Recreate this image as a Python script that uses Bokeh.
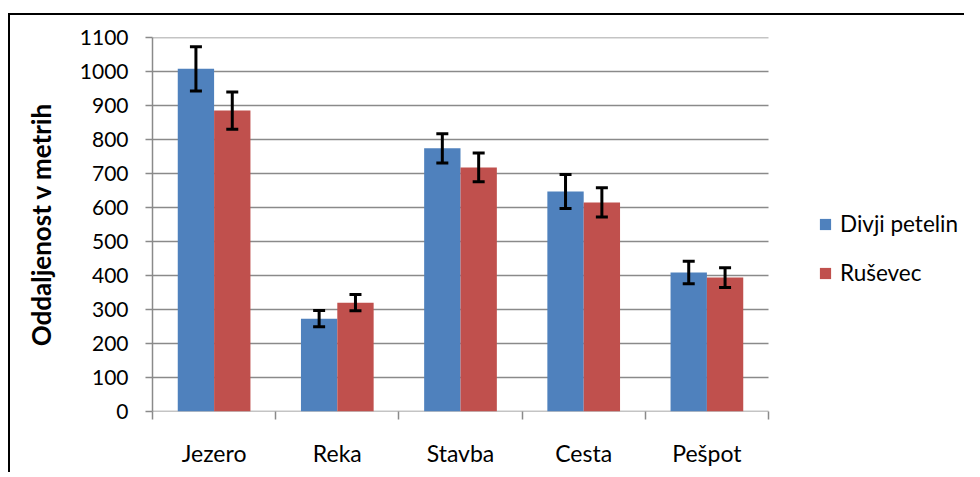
from bokeh.plotting import figure
from bokeh.models import (ColumnDataSource, FixedTicker, Whisker, TeeHead, Legend,
                          LegendItem, Range1d)
from bokeh.embed import file_html
from bokeh.resources import INLINE

categories = ["Jezero", "Reka", "Stavba", "Cesta", "Pešpot"]
series_names = ["Divji petelin", "Ruševec"]
divji_petelin = [1008, 273, 774, 647, 409]
divji_petelin_err = [65, 24, 43, 50, 33]
rusevec = [885, 320, 718, 615, 394]
rusevec_err = [55, 24, 42, 43, 29]
y_ticks = list(range(0, 1101, 100))

colors = ["#4F81BD", "#C0504D"]
FONT = "Lato"
GRID = "#8a8a8a"

W, H = 964, 472
LEFT, TOP, BOTTOM, RIGHT = 152, 37, 61, 0
FRAME_W = W - LEFT - RIGHT          # 812 px; the category area is 616 px of it
CAT_W = 616
n = len(categories)
p = figure(width=W, height=H, output_backend="svg", toolbar_location=None,
           x_range=Range1d(0, n * FRAME_W / CAT_W), y_range=Range1d(0, 1100),
           min_border_left=LEFT, min_border_right=RIGHT, min_border_top=TOP,
           min_border_bottom=BOTTOM)
p.outline_line_color = None
p.background_fill_color = "white"
p.border_fill_color = None
# outer chart border (left and top edges visible in the reference)
p.styles = {
    "background-image": "linear-gradient(black, black), linear-gradient(black, black)",
    "background-size": "2px 100%, 100% 2px",
    "background-position": "8px 13px, 8px 13px",
    "background-repeat": "no-repeat",
}

# horizontal gridlines over the category area only
p.xgrid.visible = False
p.ygrid.visible = False
p.segment(x0=[0] * len(y_ticks), x1=[n] * len(y_ticks), y0=y_ticks, y1=y_ticks,
          line_color=GRID, line_width=1.5, level="underlay")

bar_w = 0.295
offsets = [-0.1475, 0.1475]
renderers = []
for vals, errs, off, col in [(divji_petelin, divji_petelin_err, offsets[0], colors[0]),
                             (rusevec, rusevec_err, offsets[1], colors[1])]:
    xs = [i + 0.5 + off for i in range(n)]
    src = ColumnDataSource(dict(x=xs, top=vals,
                                upper=[v + e for v, e in zip(vals, errs)],
                                lower=[v - e for v, e in zip(vals, errs)]))
    r = p.vbar(x="x", top="top", width=bar_w, source=src, fill_color=col, line_color=None)
    renderers.append(r)
    w = Whisker(source=src, base="x", upper="upper", lower="lower",
                line_color="black", line_width=3, level="annotation",
                upper_head=TeeHead(size=12, line_width=3, line_color="black"),
                lower_head=TeeHead(size=12, line_width=3, line_color="black"))
    p.add_layout(w)

# y axis
ya = p.yaxis[0]
ya.ticker = FixedTicker(ticks=y_ticks)
ya.axis_line_color = GRID
ya.axis_line_width = 1.5
ya.major_tick_line_color = GRID
ya.major_tick_line_width = 1.5
ya.major_tick_out = 7
ya.major_tick_in = 0
ya.minor_tick_line_color = None
ya.major_label_text_font = FONT
ya.major_label_text_font_size = "21px"
ya.major_label_text_color = "black"
ya.major_label_standoff = 17
ya.axis_label = "Oddaljenost v metrih"
ya.axis_label_text_font = FONT
ya.axis_label_text_font_size = "26px"
ya.axis_label_text_font_style = "bold"
ya.axis_label_text_color = "black"
ya.axis_label_standoff = 20

# x axis (line drawn by the 0 gridline, boundary ticks as minor ticks)
xa = p.xaxis[0]
xa.ticker = FixedTicker(ticks=[i + 0.5 for i in range(n)],
                        minor_ticks=list(range(n + 1)))
xa.major_label_overrides = {i + 0.5: c for i, c in enumerate(categories)}
xa.axis_line_color = None
xa.major_tick_line_color = None
xa.major_tick_out = 8
xa.major_tick_in = 0
xa.minor_tick_line_color = GRID
xa.minor_tick_line_width = 1.5
xa.minor_tick_out = 8
xa.minor_tick_in = 0
xa.major_label_text_font = FONT
xa.major_label_text_font_size = "23px"
xa.major_label_text_color = "black"
xa.major_label_standoff = 19

legend = Legend(items=[LegendItem(label=s, renderers=[r]) for s, r in zip(series_names, renderers)],
                location=(666, 125), orientation="vertical",
                padding=0, margin=0, spacing=22, glyph_width=14, glyph_height=14,
                label_height=24, label_standoff=8,
                label_text_font=FONT, label_text_font_size="22.5px",
                label_text_color="black",
                border_line_color=None, background_fill_alpha=0)
p.add_layout(legend, "center")

open("out.html", "w").write(file_html(p, INLINE))
